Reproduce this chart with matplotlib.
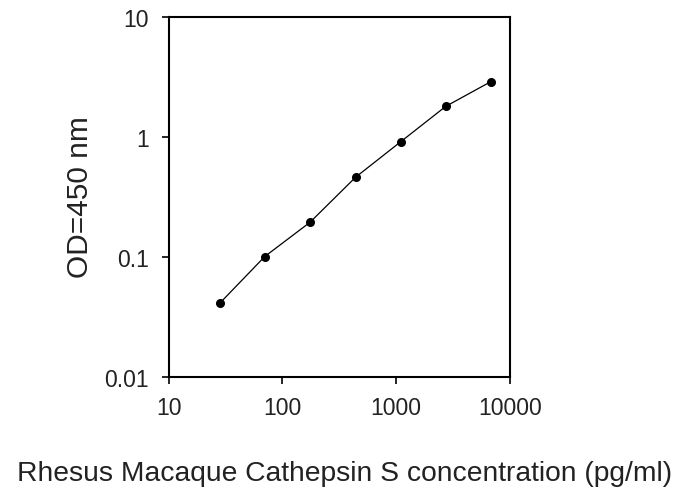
import matplotlib
matplotlib.use("Agg")
import matplotlib.pyplot as plt
from matplotlib.ticker import FixedLocator, FixedFormatter, NullLocator

plt.rcParams["font.family"] = ["Liberation Sans", "DejaVu Sans"]

# Standard curve values
concentration = [28, 70, 175, 440, 1100, 2720, 6800]
od450 = [0.041, 0.101, 0.195, 0.463, 0.917, 1.80, 2.90]

x_ticks = [10, 100, 1000, 10000]
x_labels = ["10", "100", "1000", "10000"]
y_ticks = [0.01, 0.1, 1, 10]
y_labels = ["0.01", "0.1", "1", "10"]

fig = plt.figure(figsize=(6.8, 4.89), dpi=100)
ax = fig.add_axes([0.248, 0.227, 0.502, 0.736])

ax.plot(concentration, od450, color="black", linewidth=0.9,
        marker="o", markersize=5.5, markerfacecolor="black")

ax.set_xscale("log"); ax.set_yscale("log")
ax.set_xlim(10, 10000); ax.set_ylim(0.01, 10)
ax.xaxis.set_major_locator(FixedLocator(x_ticks))
ax.xaxis.set_major_formatter(FixedFormatter(x_labels))
ax.yaxis.set_major_locator(FixedLocator(y_ticks))
ax.yaxis.set_major_formatter(FixedFormatter(y_labels))
ax.xaxis.set_minor_locator(NullLocator()); ax.yaxis.set_minor_locator(NullLocator())
ax.tick_params(direction="out", length=5, width=1.2, labelsize=16.5, labelcolor="#222222")
ax.tick_params(axis="x", pad=9)
ax.tick_params(axis="y", pad=9)

for s in ax.spines.values():
    s.set_linewidth(1.5)

fig.text(0.118, 0.597, "OD=450 nm", rotation=90, ha="center", va="center",
         fontsize=21.5, color="#222222")
fig.text(0.507, 0.017, "Rhesus Macaque Cathepsin S concentration (pg/ml)",
         ha="center", va="baseline", fontsize=20.3, color="#222222")

fig.savefig("out.png", dpi=100)
